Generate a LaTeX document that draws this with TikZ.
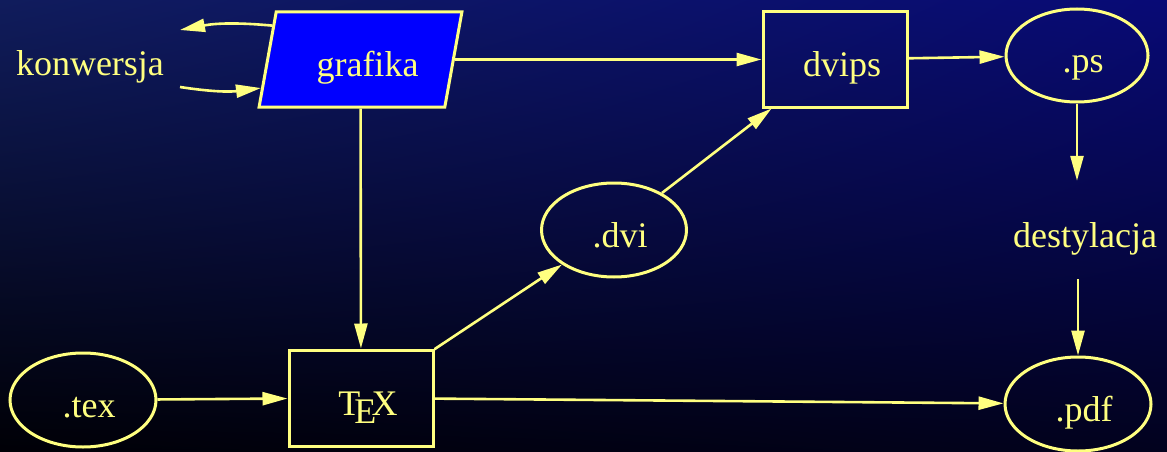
\documentclass[tikz,border=0pt]{standalone}
\usepackage{fontspec}
\setmainfont{LiberationSerif}[Extension=.ttf, UprightFont=*-Regular, BoldFont=*-Bold]
\usepackage{xcolor}
\usetikzlibrary{arrows.meta, shapes.geometric, shadings, calc, positioning}

\definecolor{jasny}{RGB}{255,255,128}
\definecolor{tloA}{RGB}{16,28,92}
\definecolor{tloB}{RGB}{8,10,118}
\definecolor{tloC}{RGB}{0,0,6}
\definecolor{tloD}{RGB}{2,2,30}

\tikzset{
    napis/.style={text height=34pt, text depth=0pt},
    krok/.style={napis, draw=jasny, line width=3pt, rectangle, minimum width=144pt, minimum height=95pt,
        execute at begin node={\hspace*{14pt}}},
    plik/.style={napis, draw=jasny, line width=3pt, ellipse, minimum width=145pt, minimum height=94pt, inner sep=0pt,
        execute at begin node={\hspace*{12pt}}},
    strz/.style={draw=jasny, line width=2.6pt, -{Triangle[length=25pt, width=13pt]}},
}

\begin{document}
\begin{tikzpicture}[x=1pt, y=1pt, text=jasny, font=\fontsize{36}{40}\selectfont]
                    \useasboundingbox (0, 0) rectangle (1167, -452);
                    \shade[upper left=tloA, upper right=tloB, lower left=tloC, lower right=tloD]
                    (0, 0) rectangle (1167, -452);

                    \node[napis] (konw) at (90, -59) {konwersja};
                    \node[napis, draw=jasny, line width=3pt, fill=blue, trapezium, trapezium stretches=true,
                        trapezium left angle=73, trapezium right angle=107,
                        minimum width=203pt, minimum height=95pt] (grafika) at (360.5, -59.5) {\hspace*{14pt}grafika};
                    \node[krok] (dvips) at (835, -59.5) {dvips};
                    \node[plik, minimum width=142pt, minimum height=93pt] (ps) at (1077, -55.5) {.ps};
                    \node[napis, inner ysep=32pt] (destyl) at (1085, -230) {destylacja};
                    \node[plik] (dvi) at (614, -230) {.dvi};
                    \node[plik, minimum width=146pt] (tex) at (83, -400) {.tex};
                    \node[krok, minimum height=96pt] (TeX) at (361, -398) {\TeX};
                    \node[plik, minimum width=146pt] (pdf) at (1078, -404) {.pdf};

                    \coordinate (kin) at (180, -30);
                    \coordinate (kout) at (180, -87);

                    \draw[strz] (grafika.159) to[bend right=8] (kin);
                    \draw[strz] (kout) to[bend right=8] (grafika.196);
                    \draw[strz] (grafika) -- (dvips);
                    \draw[strz] (dvips) -- (ps);
                    \draw[strz] (ps.south) -- (ps.south |- destyl.north);
                    \draw[strz] (pdf.north |- destyl.south) -- (pdf.north);
                    \draw[strz] (grafika) -- (TeX);
                    \draw[strz] (tex) -- (TeX);
                    \draw[strz] (TeX) -- (dvi);
                    \draw[strz] (dvi) -- (dvips);
                    \draw[strz] (TeX) -- (pdf);
                \end{tikzpicture}
\end{document}
